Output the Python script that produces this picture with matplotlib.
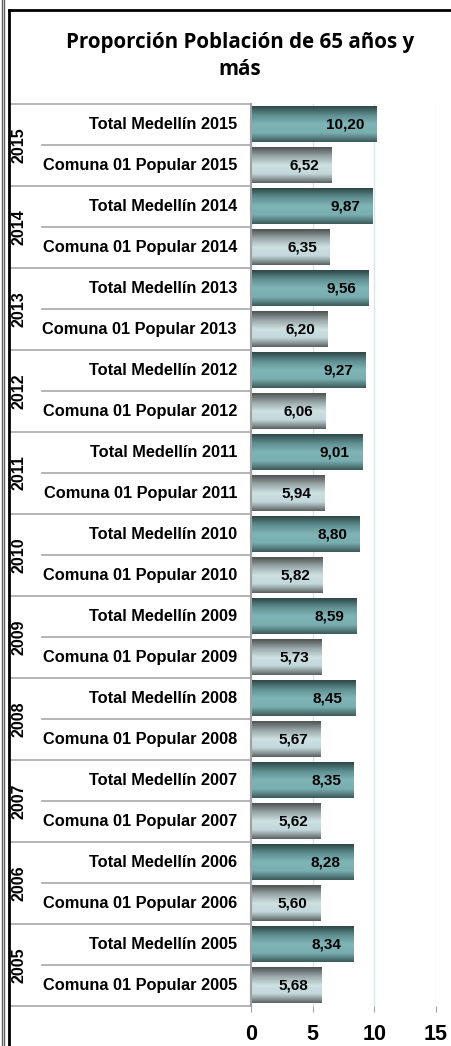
import numpy as np
import matplotlib
matplotlib.use('Agg')
from matplotlib import pyplot as plt
from matplotlib.colors import LinearSegmentedColormap
from matplotlib.lines import Line2D
from matplotlib.transforms import blended_transform_factory

years = [2005, 2006, 2007, 2008, 2009, 2010, 2011, 2012, 2013, 2014, 2015]
total_medellin = [8.34, 8.28, 8.35, 8.45, 8.59, 8.80, 9.01, 9.27, 9.56, 9.87, 10.20]
comuna_01 = [5.68, 5.60, 5.62, 5.67, 5.73, 5.82, 5.94, 6.06, 6.20, 6.35, 6.52]
x_ticks = [0, 5, 10, 15]
title = "Proporción Población de 65 años y\nmás"

W, H = 451, 1046
fig = plt.figure(figsize=(W / 100, H / 100), dpi=100)
fig.patch.set_facecolor('white')
ax = fig.add_axes([251 / W, 40 / H, 185 / W, 902 / H])

# cylinder-like shading for the bars
teal = LinearSegmentedColormap.from_list('teal', ['#2f4747', '#5f8f91', '#80b5b7', '#79aeb0', '#3d5b5c'])
grey = LinearSegmentedColormap.from_list('grey', ['#4f5454', '#98a6a7', '#cde0e2', '#c2d7da', '#5d6464'])
shade = np.linspace(0, 1, 60).reshape(-1, 1)

bar_h = 0.86
labels = []
for i, yr in enumerate(years):
    for j, (val, cmap, name) in enumerate([(comuna_01[i], grey, 'Comuna 01 Popular'),
                                            (total_medellin[i], teal, 'Total Medellín')]):
        pos = 2 * i + j
        ax.barh(pos, val, height=bar_h, color='none', zorder=2)
        ax.imshow(shade, cmap=cmap, aspect='auto', zorder=2,
                  extent=(0, val, pos - bar_h / 2, pos + bar_h / 2))
        ax.annotate(f"{val:.2f}".replace('.', ','), (val, pos), xytext=(-9, 0),
                    textcoords='offset points', ha='right', va='center',
                    fontsize=11, fontweight='bold', family='Liberation Sans', zorder=3)
        labels.append(f"{name} {yr}")

ax.set_xlim(0, 15)
ax.set_ylim(-0.5, 2 * len(years) - 0.5)
ax.set_xticks(x_ticks)
ax.set_xticklabels([str(t) for t in x_ticks], fontsize=15.5, fontweight='bold', family='Liberation Sans')
ax.tick_params(axis='x', length=4, color='#a0a0a0', pad=9)
ax.set_yticks([])
ax.grid(axis='x', color='#d8e6ea', lw=1, zorder=0)
for s in ['top', 'right', 'bottom']:
    ax.spines[s].set_visible(False)
ax.spines['left'].set_color('#a0a0a0')
ax.spines['left'].set_linewidth(1.5)

# category labels and divider lines at the left
tr = blended_transform_factory(fig.transFigure, ax.transData)
for pos, lab in enumerate(labels):
    ax.text(237 / W, pos, lab, transform=tr, ha='right', va='center',
            fontsize=11.8, fontweight='bold', family='Liberation Sans')
for k in range(2 * len(years) + 1):
    y = k - 0.5
    x0 = 10 / W if k % 2 == 0 else 42 / W
    ax.add_line(Line2D([x0, 251 / W], [y, y], transform=tr, color='#a8a8a8', lw=1.2, clip_on=False))
for i, yr in enumerate(years):
    ax.text(19.5 / W, 2 * i + 0.5, str(yr), transform=tr, rotation=90, ha='center', va='center',
            fontsize=11.5, fontweight='bold', family='Liberation Sans')

# frame
fig.add_artist(Line2D([9 / W, 9 / W], [0, 1 - 10 / H], color='black', lw=2))
fig.add_artist(Line2D([9 / W, 1], [1 - 10 / H, 1 - 10 / H], color='black', lw=2))
fig.add_artist(Line2D([1.5 / W, 1.5 / W], [0, 1], color='#606060', lw=1))
fig.add_artist(Line2D([3.5 / W, 3.5 / W], [0, 1], color='#606060', lw=1))

fig.text(240 / W, 1 - 56 / H, title, ha='center', va='center', fontsize=14.8,
         fontweight='bold', family='Open Sans', linespacing=1.4)

fig.savefig('out.png', dpi=100)
